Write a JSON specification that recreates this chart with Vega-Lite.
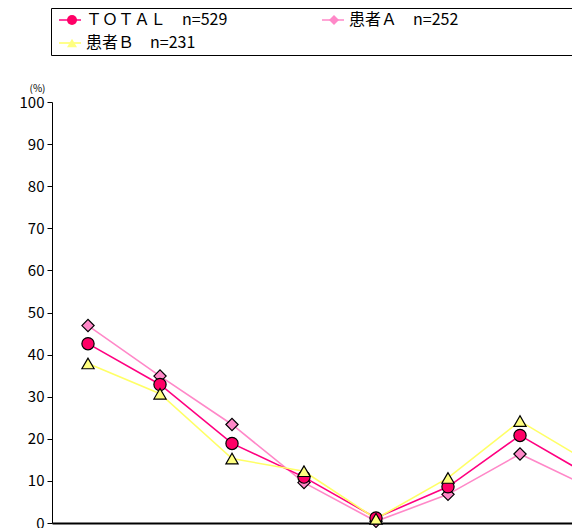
{
  "$schema": "https://vega.github.io/schema/vega-lite/v6.json",
  "usermeta": {"embedOptions": {"actions": false}},
  "autosize": {"type": "none"},
  "padding": {"left": 52, "top": 102, "right": 0, "bottom": 5},
  "width": 520,
  "height": 421,
  "background": "white",
  "config": {
    "view": {"stroke": null},
    "font": "Noto Sans CJK JP"
  },
  "data": {
    "values": [
      {"cat": "1", "series": "患者Ａ　n=252", "value": 46.9},
      {"cat": "2", "series": "患者Ａ　n=252", "value": 34.9},
      {"cat": "3", "series": "患者Ａ　n=252", "value": 23.4},
      {"cat": "4", "series": "患者Ａ　n=252", "value": 9.6},
      {"cat": "5", "series": "患者Ａ　n=252", "value": 0.4},
      {"cat": "6", "series": "患者Ａ　n=252", "value": 6.8},
      {"cat": "7", "series": "患者Ａ　n=252", "value": 16.4},
      {"cat": "8", "series": "患者Ａ　n=252", "value": 8.2},
      {"cat": "1", "series": "ＴＯＴＡＬ　n=529", "value": 42.6},
      {"cat": "2", "series": "ＴＯＴＡＬ　n=529", "value": 32.9},
      {"cat": "3", "series": "ＴＯＴＡＬ　n=529", "value": 18.9},
      {"cat": "4", "series": "ＴＯＴＡＬ　n=529", "value": 10.9},
      {"cat": "5", "series": "ＴＯＴＡＬ　n=529", "value": 1.2},
      {"cat": "6", "series": "ＴＯＴＡＬ　n=529", "value": 8.6},
      {"cat": "7", "series": "ＴＯＴＡＬ　n=529", "value": 20.8},
      {"cat": "8", "series": "ＴＯＴＡＬ　n=529", "value": 10.9},
      {"cat": "1", "series": "患者Ｂ　n=231", "value": 37.9},
      {"cat": "2", "series": "患者Ｂ　n=231", "value": 30.7},
      {"cat": "3", "series": "患者Ｂ　n=231", "value": 15.3},
      {"cat": "4", "series": "患者Ｂ　n=231", "value": 12.3},
      {"cat": "5", "series": "患者Ｂ　n=231", "value": 1.0},
      {"cat": "6", "series": "患者Ｂ　n=231", "value": 10.7},
      {"cat": "7", "series": "患者Ｂ　n=231", "value": 24.2},
      {"cat": "8", "series": "患者Ｂ　n=231", "value": 14.0}
    ]
  },
  "encoding": {
    "x": {
      "field": "cat",
      "type": "ordinal",
      "scale": {"type": "band", "range": [0, 576], "paddingInner": 0, "paddingOuter": 0},
      "axis": {
        "title": null,
        "labels": false,
        "ticks": false,
        "domainColor": "black",
        "domainWidth": 2
      }
    },
    "y": {
      "field": "value",
      "type": "quantitative",
      "scale": {"domain": [0, 100], "nice": false},
      "axis": {
        "values": [0, 10, 20, 30, 40, 50, 60, 70, 80, 90, 100],
        "grid": false,
        "domainColor": "black",
        "domainWidth": 1,
        "tickColor": "black",
        "tickSize": 5,
        "labelFont": "Noto Sans CJK JP",
        "labelFontSize": 15,
        "labelColor": "black",
        "labelPadding": 3,
        "title": "(%)",
        "titleFont": "Noto Sans CJK JP",
        "titleFontSize": 10,
        "titleFontWeight": "normal",
        "titleColor": "black",
        "titleAngle": 0,
        "titleAlign": "center",
        "titleBaseline": "middle",
        "titleX": -15,
        "titleY": -14
      }
    }
  },
  "layer": [
    {
      "mark": {"type": "line", "strokeWidth": 1.6},
      "encoding": {
        "color": {
          "field": "series",
          "type": "nominal",
          "scale": {
            "domain": ["ＴＯＴＡＬ　n=529", "患者Ａ　n=252", "患者Ｂ　n=231"],
            "range": ["#FF0080", "#FF88C8", "#FFFF66"]
          },
          "legend": {
            "orient": "none",
            "legendX": -1,
            "legendY": -94,
            "title": null,
            "direction": "horizontal",
            "columns": 2,
            "symbolType": "stroke",
            "symbolSize": 484,
            "symbolStrokeWidth": 1.5,
            "clipHeight": 16,
            "labelFont": "Noto Sans CJK JP",
            "labelFontSize": 16,
            "labelColor": "black",
            "labelOffset": 4,
            "labelLimit": 600,
            "labelExpr": "datum.value == '患者Ａ　n=252' ? datum.label + '　　　　　　　⠀' : datum.label",
            "padding": 4,
            "rowPadding": 7,
            "columnPadding": 90,
            "symbolOffset": 3,
            "strokeColor": "black",
            "fillColor": "white"
          }
        }
      }
    },
    {
      "mark": {"type": "point", "filled": true, "opacity": 1, "size": 150, "stroke": "black", "strokeWidth": 1.2},
      "encoding": {
        "fill": {
          "field": "series",
          "type": "nominal",
          "scale": {
            "domain": ["ＴＯＴＡＬ　n=529", "患者Ａ　n=252", "患者Ｂ　n=231"],
            "range": ["#FF0066", "#FF88C8", "#FFFF80"]
          },
          "legend": {
            "orient": "none",
            "legendX": -1,
            "legendY": -94,
            "title": null,
            "direction": "horizontal",
            "columns": 2,
            "symbolSize": 100,
            "symbolStrokeColor": "black",
            "symbolStrokeWidth": 1,
            "symbolOpacity": 1,
            "clipHeight": 16,
            "labelFont": "Noto Sans CJK JP",
            "labelFontSize": 16,
            "labelOpacity": 0,
            "labelOffset": 16,
            "labelLimit": 600,
            "padding": 4,
            "rowPadding": 7,
            "columnPadding": 79,
            "symbolOffset": 9
          }
        },
        "shape": {
          "field": "series",
          "type": "nominal",
          "scale": {
            "domain": ["ＴＯＴＡＬ　n=529", "患者Ａ　n=252", "患者Ｂ　n=231"],
            "range": ["circle", "diamond", "triangle-up"]
          },
          "legend": {
            "orient": "none",
            "legendX": -1,
            "legendY": -94,
            "title": null,
            "direction": "horizontal",
            "columns": 2,
            "symbolSize": 100,
            "symbolStrokeColor": "black",
            "symbolStrokeWidth": 1,
            "symbolOpacity": 1,
            "clipHeight": 16,
            "labelFont": "Noto Sans CJK JP",
            "labelFontSize": 16,
            "labelOpacity": 0,
            "labelOffset": 16,
            "labelLimit": 600,
            "padding": 4,
            "rowPadding": 7,
            "columnPadding": 79,
            "symbolOffset": 9
          }
        }
      }
    }
  ],
  "resolve": {"legend": {"color": "independent", "fill": "independent", "shape": "independent"}}
}
